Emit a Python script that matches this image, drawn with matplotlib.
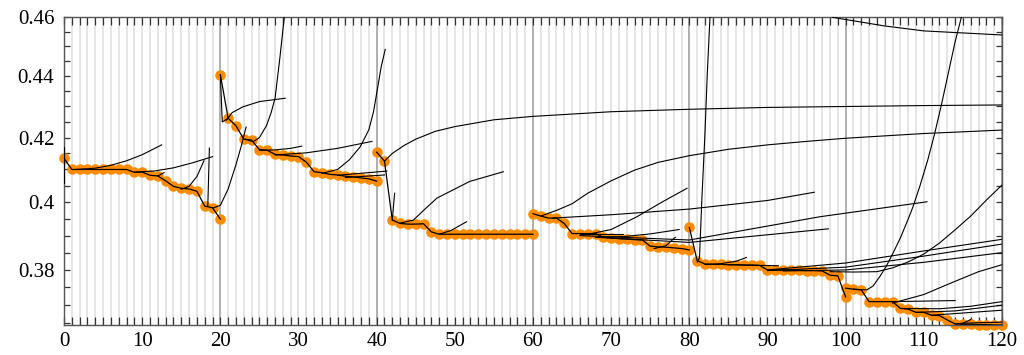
import numpy as np
import matplotlib.pyplot as plt
from matplotlib.ticker import MultipleLocator, NullFormatter

plt.rcParams['font.family'] = ['Liberation Serif', 'DejaVu Serif']

# six runs of 21 points each, starting at these x values
run_starts = [0, 20, 40, 60, 80, 100]

run1 = [0.4135, 0.4100, 0.4100, 0.4100, 0.4100, 0.4100, 0.4100, 0.4100, 0.4100, 0.4091, 0.4092,
        0.4082, 0.4080, 0.4065, 0.4048, 0.4042, 0.4040, 0.4033, 0.3988, 0.3983, 0.3949]
run2 = [0.4405, 0.4262, 0.4238, 0.4195, 0.4192, 0.4162, 0.4160, 0.4147, 0.4145, 0.4142, 0.4140,
        0.4123, 0.4093, 0.4090, 0.4085, 0.4083, 0.4079, 0.4077, 0.4074, 0.4071, 0.4064]
run3 = [0.4154, 0.4126, 0.3946, 0.3936, 0.3934, 0.3934, 0.3935, 0.3911, 0.3904, 0.3904, 0.3904,
        0.3904, 0.3904, 0.3904, 0.3904, 0.3904, 0.3904, 0.3904, 0.3904, 0.3904, 0.3904]
run4 = [0.3965, 0.3958, 0.3952, 0.3952, 0.3936, 0.3906, 0.3906, 0.3906, 0.3906, 0.3895, 0.3893,
        0.3891, 0.3890, 0.3888, 0.3887, 0.3869, 0.3867, 0.3866, 0.3864, 0.3862, 0.3858]
run5 = [0.3924, 0.3827, 0.3817, 0.3816, 0.3816, 0.3815, 0.3815, 0.3814, 0.3814, 0.3813, 0.3800,
        0.3800, 0.3800, 0.3799, 0.3799, 0.3798, 0.3798, 0.3797, 0.3785, 0.3783, 0.3723]
run6 = [0.3748, 0.3745, 0.3743, 0.3710, 0.3710, 0.3710, 0.3710, 0.3691, 0.3689, 0.3680, 0.3680,
        0.3672, 0.3671, 0.3659, 0.3648, 0.3647, 0.3647, 0.3646, 0.3646, 0.3645, 0.3645]
runs = [run1, run2, run3, run4, run5, run6]

# forecast curves: (x values, y values)
curves_run1 = [
    ([0, 0], [0.4059, 0.4171]),
    ([1.5, 4, 6, 8, 10, 12.5], [0.4100, 0.4104, 0.4113, 0.4127, 0.4146, 0.4177]),
    ([9, 11.5, 14, 16.5, 19], [0.4092, 0.4095, 0.4105, 0.4121, 0.4140]),
    ([12, 12.8], [0.4080, 0.4090]),
    ([15, 16, 17, 17.9], [0.4039, 0.4048, 0.4078, 0.4127]),
    ([18.4, 18.6], [0.3990, 0.4167]),
    ([19, 20, 21, 22, 22.7, 23.3], [0.3982, 0.3990, 0.4040, 0.4115, 0.4175, 0.4234]),
]
curves_run2 = [
    ([20, 20.25, 21], [0.4405, 0.4250, 0.4262]),
    ([20.8, 21.5, 22.9, 25, 28.3], [0.4256, 0.4280, 0.4299, 0.4316, 0.4327]),
    ([23.2, 24.2, 25, 25.9, 26.5, 27, 27.6, 28.2], [0.4195, 0.4187, 0.4200, 0.4238, 0.4280, 0.4327, 0.4457, 0.4605]),
    ([25, 27, 29, 30.4], [0.4160, 0.4161, 0.4166, 0.4173]),
    ([27, 31, 35, 39.4], [0.4145, 0.4152, 0.4166, 0.4188]),
    ([33, 35, 36.5, 37.9, 39, 39.6, 40.6, 41.1], [0.4088, 0.4100, 0.4130, 0.4171, 0.4225, 0.4283, 0.4434, 0.4490]),
    ([35, 41.3], [0.4082, 0.4095]),
    ([36, 41], [0.4075, 0.4083]),
]
curves_run3 = [
    ([41, 42, 43.5, 45, 47.5, 50, 55, 60, 70, 80, 90, 100, 110, 120],
     [0.4126, 0.4150, 0.4175, 0.4195, 0.4220, 0.4235, 0.4257, 0.4268, 0.4283, 0.4291, 0.4297, 0.4300, 0.4303, 0.4305]),
    ([42, 42.3], [0.3946, 0.4027]),
    ([43, 44.7, 46, 47.7, 51.9, 56.2], [0.3937, 0.3946, 0.3975, 0.4012, 0.4063, 0.4093]),
    ([48, 49.5, 51.5], [0.3904, 0.3915, 0.3941]),
]
curves_run4 = [
    ([61, 63, 65, 67, 70, 73, 76, 80, 85, 90, 95, 100, 110, 120],
     [0.3958, 0.3975, 0.3995, 0.4027, 0.4065, 0.4098, 0.4122, 0.4143, 0.4163, 0.4177, 0.4188, 0.4198, 0.4213, 0.4224]),
    ([62.6, 70, 80, 90, 96], [0.3952, 0.3962, 0.3979, 0.4005, 0.4030]),
    ([67.5, 70, 73.3, 76.5, 79.7], [0.3906, 0.3918, 0.3956, 0.4000, 0.4042]),
    ([69, 72, 75, 78.7], [0.3895, 0.3898, 0.3905, 0.3918]),
    ([75.5, 77, 78.2], [0.3862, 0.3870, 0.3895]),
    ([66, 71.5], [0.3906, 0.3906]),
    ([66, 80, 96.7, 110.4], [0.3900, 0.3887, 0.3956, 0.4001]),
    ([68, 80, 97.8], [0.3895, 0.3880, 0.3920]),
]
curves_run5 = [
    ([81.0, 81.3, 81.6, 82.0, 82.3, 82.65], [0.3823, 0.3835, 0.4006, 0.4213, 0.4409, 0.4605]),
    ([82, 84, 86, 87.3], [0.3816, 0.3818, 0.3825, 0.3836]),
    ([85, 91.4], [0.3815, 0.3812]),
    ([98.3, 105, 110, 120], [0.4600, 0.4570, 0.4553, 0.4539]),
    ([90, 100, 110, 120], [0.3800, 0.3820, 0.3855, 0.3889]),
    ([90, 100, 110, 120], [0.3798, 0.3808, 0.3840, 0.3875]),
    ([92, 100, 110, 120], [0.3797, 0.3800, 0.3822, 0.3850]),
    ([98, 101, 104, 106, 108, 110, 112, 114, 116, 118, 120],
     [0.3795, 0.3794, 0.3795, 0.3806, 0.3823, 0.3846, 0.3878, 0.3917, 0.3958, 0.4006, 0.4052]),
]
curves_run6 = [
    ([101, 102.7, 103.5, 104.4, 105.2, 106, 107, 108, 108.6, 109.5, 110.5, 111.4, 112.3, 113.3, 114, 114.8],
     [0.3745, 0.3743, 0.3754, 0.3782, 0.3811, 0.3846, 0.3893, 0.3949, 0.3985, 0.4049, 0.4129, 0.4214,
      0.4311, 0.4430, 0.4515, 0.4600]),
    ([106, 110, 113.3, 117, 120], [0.3706, 0.3730, 0.3761, 0.3795, 0.3815]),
    ([106, 114], [0.3710, 0.3713]),
    ([107, 112, 116, 120], [0.3691, 0.3690, 0.3697, 0.3710]),
    ([109, 114, 120], [0.3680, 0.3684, 0.3700]),
    ([111, 120], [0.3672, 0.3686]),
    ([114, 115, 116], [0.3648, 0.3650, 0.3660]),
    ([115, 120], [0.3650, 0.3653]),
]
all_curves = curves_run1 + curves_run2 + curves_run3 + curves_run4 + curves_run5 + curves_run6

fig = plt.figure(figsize=(10.24, 3.55), dpi=100)
ax = fig.add_axes([0.0625, 0.0845, 0.916, 0.8667])
ax.set_yscale('log')
ax.set_xlim(0, 120)
ax.set_ylim(0.3645, 0.46)

# vertical grid, darker every 20
grid_x = np.arange(0, 121)
ax.vlines(grid_x, 0, 1, transform=ax.get_xaxis_transform(),
          colors=['#9a9a9a' if g % 20 == 0 else '#dedede' for g in grid_x], lw=1.1, zorder=0)

for start, vals in zip(run_starts, runs):
    xs = np.arange(start, start + len(vals))
    ax.plot(xs, vals, 'o', color='#ff8c00', ms=7.6, mec='none', clip_on=False, zorder=2)
    ax.plot(xs, vals, color='black', lw=0.9, zorder=3)

for cx, cy in all_curves:
    ax.plot(cx, cy, color='black', lw=0.8, zorder=3)

ax.xaxis.set_major_locator(MultipleLocator(10))
ax.xaxis.set_minor_locator(MultipleLocator(1))
ax.set_yticks([0.38, 0.40, 0.42, 0.44, 0.46], labels=['0.38', '0.4', '0.42', '0.44', '0.46'])
ax.set_yticks(np.arange(0.365, 0.4601, 0.005), minor=True)
ax.yaxis.set_minor_formatter(NullFormatter())

ax.tick_params(which='both', direction='in', top=True, right=True, color='#333333', labelsize=15)
ax.tick_params(axis='x', which='both', length=6, width=0.9, pad=5)
ax.tick_params(axis='y', which='both', length=4.5, width=0.9, pad=7)
for sp in ax.spines.values():
    sp.set_color('#555555')
    sp.set_linewidth(1.0)

fig.savefig('out.png', dpi=100)
